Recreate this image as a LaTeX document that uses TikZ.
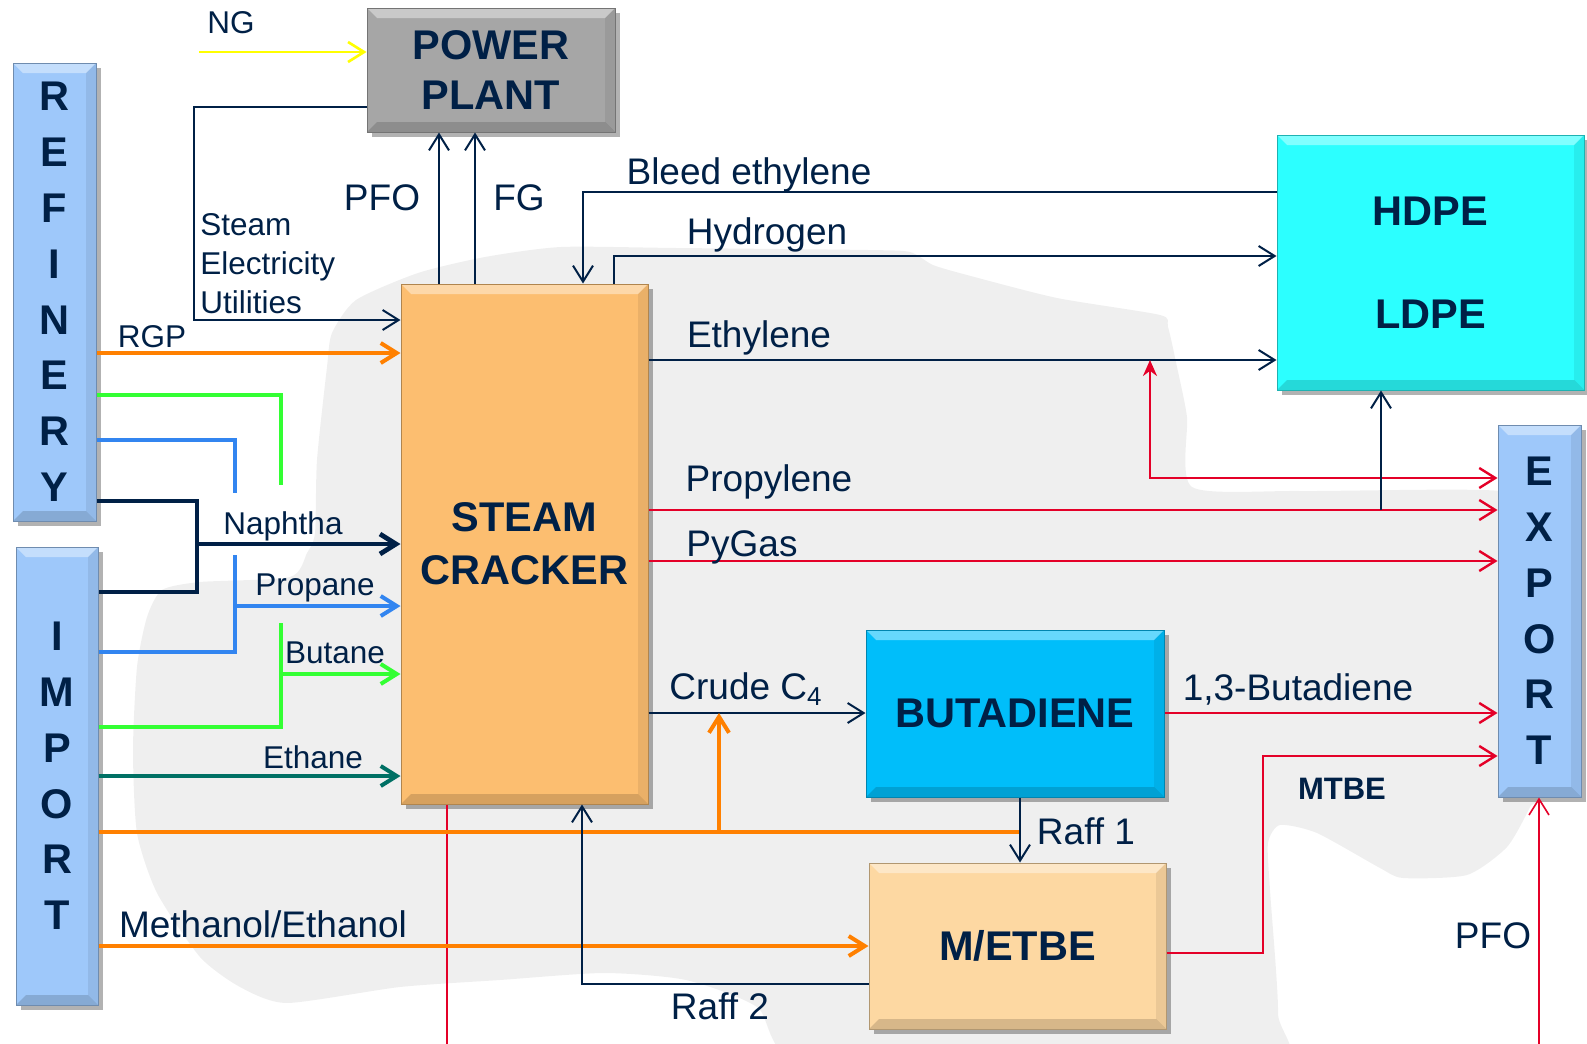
\documentclass[tikz,border=0pt]{standalone}
\usepackage{fontspec}
\setmainfont{Liberation Sans}
\usetikzlibrary{arrows.meta, shadows}
\definecolor{navy}{RGB}{0,32,70}
\definecolor{blobgray}{RGB}{239,239,239}
\definecolor{sideblue}{RGB}{158,200,250}
\definecolor{plantgray}{RGB}{166,166,166}
\definecolor{crackorange}{RGB}{252,190,112}
\definecolor{polycyan}{RGB}{44,255,255}
\definecolor{butablue}{RGB}{0,190,250}
\definecolor{etbepeach}{RGB}{253,216,162}
\definecolor{feedorange}{RGB}{255,128,0}
\definecolor{feedgreen}{RGB}{51,255,51}
\definecolor{feedblue}{RGB}{50,133,240}
\definecolor{feedteal}{RGB}{0,112,100}
\definecolor{prodred}{RGB}{228,0,40}
\definecolor{ngyellow}{RGB}{255,255,0}

\tikzset{
  bevel/.style={path picture={
    \fill[white,opacity=0.4] (path picture bounding box.north west) -- (path picture bounding box.north east)
      -- ++(-5pt,-5pt) -- ([shift={(5pt,-5pt)}]path picture bounding box.north west) -- cycle;
    \fill[black,opacity=0.15] (path picture bounding box.south west) -- (path picture bounding box.south east)
      -- ++(-5pt,5pt) -- ([shift={(5pt,5pt)}]path picture bounding box.south west) -- cycle;
    \fill[black,opacity=0.07] (path picture bounding box.north east) -- (path picture bounding box.south east)
      -- ++(-5pt,5pt) -- ([shift={(-5pt,-5pt)}]path picture bounding box.north east) -- cycle;}},
  box/.style={fill=#1, draw=#1!70!black, line width=0.5pt, inner sep=0pt, bevel,
    drop shadow={shadow xshift=2.5pt, shadow yshift=-2.5pt, opacity=0.3, fill=black},
    text=navy, align=center, font=\bfseries\fontsize{20.75}{26}\selectfont},
  stack/.style={font=\bfseries\fontsize{20.75}{27.9}\selectfont},
  lbl/.style={text=navy, inner sep=0pt, font=\fontsize{15.75}{19}\selectfont},
  biglbl/.style={text=navy, inner sep=0pt, font=\fontsize{18.5}{22}\selectfont},
  flow/.style={draw=navy, line width=1pt},
  feed/.style={draw=#1, line width=2pt},
  prod/.style={draw=prodred, line width=1.2pt}
}

\begin{document}
\begin{tikzpicture}[x=0.5pt, y=-0.5pt, >={Straight Barb[length=8pt,width=10pt]}]
  \clip (0,0) rectangle (1587,1044);

  % grey backdrop
  \fill[blobgray] plot[smooth cycle, tension=0.4] coordinates {
    (332,333) (356,300) (418,273) (485,257) (561,247) (676,248) (868,250) (910,252)
    (933,265) (967,275) (1057,298) (1160,315) (1168,327) (1177,367) (1187,417) (1192,487)
    (1300,491) (1500,491) (1540,520) (1540,780) (1530,807) (1507,847) (1467,875) (1403,878)
    (1380,868) (1317,833) (1280,825) (1268,843) (1270,890) (1278,1013) (1265,1070)
    (820,1070) (757,1007) (686,980) (604,973) (500,980) (400,987) (287,1003) (240,987)
    (200,957) (157,893) (137,833) (133,750) (137,667) (147,617) (162,590) (200,582)
    (290,577) (307,553) (315,533) (317,460) (327,367)};

  % units
  \node[box=sideblue, stack, minimum width=41.5pt, minimum height=229pt] (refinery) at (54.5,292) {R\\E\\F\\I\\N\\E\\R\\Y};
  \node[box=sideblue, stack, minimum width=41pt, minimum height=229pt] (import) at (57,776) {I\\M\\P\\O\\R\\T};
  \node[box=sideblue, stack, minimum width=41.5pt, minimum height=186pt] (export) at (1539.5,611) {E\\X\\P\\O\\R\\T};
  \node[box=plantgray, minimum width=124pt, minimum height=62pt, font=\bfseries\fontsize{20.75}{25}\selectfont] (plant) at (491,70) {POWER\\PLANT};
  \node[box=crackorange, minimum width=123.5pt, minimum height=260pt, font=\bfseries\fontsize{20.75}{26.5}\selectfont] (cracker) at (524.5,544) {STEAM\\CRACKER};
  \node[box=polycyan, minimum width=153.5pt, minimum height=127.5pt, font=\bfseries\fontsize{20.75}{51.5}\selectfont] (poly) at (1430.5,262.5) {HDPE\\LDPE};
  \node[box=butablue, minimum width=149pt, minimum height=83.5pt] (butadiene) at (1015,713.5) {BUTADIENE};
  \node[box=etbepeach, minimum width=148.5pt, minimum height=83pt] (metbe) at (1017.5,946) {M/ETBE};

  % power plant
  \draw[ngyellow, line width=1.3pt, ->] (199,52) -- (199,52 -| plant.west);
  \node[lbl] (ng) at (231,23) {NG};
  \draw[flow, ->] (plant.west |- 0,107) -- (194,107) -- (194,320) -- (194,320 -| cracker.west);
  \node[lbl, anchor=west] (steam) at (200,225) {Steam};
  \node[lbl, anchor=west] (elec) at (200,266) {Electricity};
  \node[lbl, anchor=west] (util) at (200,302) {Utilities};
  \draw[flow, ->] (439,0 |- cracker.north) -- (439,0 |- plant.south);
  \draw[flow, ->] (475,0 |- cracker.north) -- (475,0 |- plant.south);
  \node[biglbl] (pfotop) at (382,198) {PFO};
  \node[biglbl] (fg) at (519,198) {FG};

  % polymers
  \draw[flow, ->] (poly.west |- 0,192) -- (583,192) -- (583,0 |- cracker.north);
  \node[biglbl] (bleed) at (749,175) {Bleed ethylene};
  \draw[flow, ->] (614,0 |- cracker.north) -- (614,256) -- (614,256 -| poly.west);
  \node[biglbl] (hydrogen) at (767,235) {Hydrogen};
  \draw[flow, ->] (cracker.east |- 0,360) -- (poly.west |- 0,360);
  \node[biglbl] (ethylene) at (759,338) {Ethylene};
  \draw[prod, {Stealth[length=8pt,width=7pt]}->] (1150,360) -- (1150,478) -- (1150,478 -| export.west);

  % products to export
  \draw[prod, ->] (cracker.east |- 0,510) -- (export.west |- 0,510);
  \node[biglbl] (propylene) at (769,482) {Propylene};
  \draw[flow, ->] (1381,510) -- (1381,0 |- poly.south);
  \draw[prod, ->] (cracker.east |- 0,561) -- (export.west |- 0,561);
  \node[biglbl] (pygas) at (742,547) {PyGas};
  \draw[flow, ->] (cracker.east |- 0,713) -- (butadiene.west |- 0,713);
  \node[biglbl] (crude) at (746,689) {Crude C\textsubscript{4}};
  \draw[prod, ->] (butadiene.east |- 0,713) -- (export.west |- 0,713);
  \node[biglbl] (bd) at (1298,689) {1,3-Butadiene};
  \draw[prod, ->] (metbe.east |- 0,953) -- (1263,953) -- (1263,756) -- (1263,756 -| export.west);
  \node[lbl, font=\bfseries\fontsize{15.5}{19}\selectfont] (mtbe) at (1342,789) {MTBE};
  \draw[prod, line width=0.8pt, ->] (447,0 |- cracker.south) -- (447,1045) -- (1539,1045) -- (1539,0 |- export.south);
  \node[biglbl] (pfoexp) at (1493,936) {PFO};

  % C4 handling
  \draw[feed=feedorange] (import.east |- 0,832) -- (1020,832);
  \draw[feed=feedorange, ->] (719,832) -- (719,713);
  \draw[flow, ->] (1020,0 |- butadiene.south) -- (1020,0 |- metbe.north);
  \node[biglbl] (raffa) at (1086,831) {Raff 1};
  \draw[feed=feedorange, ->] (import.east |- 0,946) -- (metbe.west |- 0,946);
  \node[biglbl] (alcohol) at (263,924) {Methanol/Ethanol};
  \draw[flow, ->] (metbe.west |- 0,984) -- (582,984) -- (582,0 |- cracker.south);
  \node[biglbl] (raffb) at (720,1006) {Raff 2};

  % feeds
  \draw[feed=feedorange, ->] (refinery.east |- 0,353) -- (cracker.west |- 0,353);
  \node[lbl] (rgp) at (152,337) {RGP};
  \draw[feed=feedgreen] (refinery.east |- 0,395) -- (281,395) -- (281,485);
  \draw[feed=feedgreen] (import.east |- 0,727) -- (281,727) -- (281,623);
  \draw[feed=feedgreen, ->] (281,674) -- (281,674 -| cracker.west);
  \node[lbl] (butane) at (335,653) {Butane};
  \draw[feed=feedblue] (refinery.east |- 0,440) -- (235,440) -- (235,493);
  \draw[feed=feedblue] (import.east |- 0,652) -- (235,652) -- (235,555);
  \draw[feed=feedblue, ->] (235,606) -- (235,606 -| cracker.west);
  \node[lbl] (propane) at (315,588) {Propane};
  \draw[feed=navy, line width=2.4pt] (refinery.east |- 0,501) -- (197,501) -- (197,592) -- (197,592 -| import.east);
  \draw[feed=navy, line width=2.4pt, ->] (197,544) -- (197,544 -| cracker.west);
  \node[lbl] (naphtha) at (283,526) {Naphtha};
  \draw[feed=feedteal, ->] (import.east |- 0,776) -- (cracker.west |- 0,776);
  \node[lbl] (ethane) at (313,757) {Ethane};
\end{tikzpicture}
\end{document}
